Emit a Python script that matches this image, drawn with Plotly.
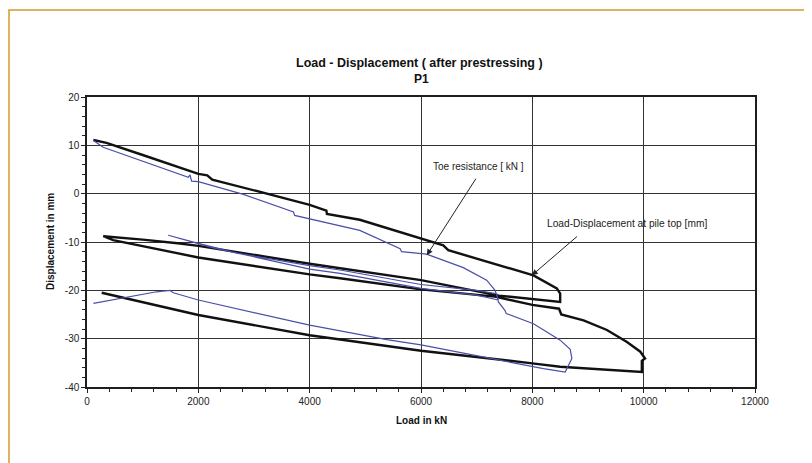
import plotly.graph_objects as go

# ---- data ----
black_load = [115, 350, 1000, 2000, 2160, 2250, 3350, 4000, 4300, 4310, 4900, 5985, 6220, 6400, 6490,
              7120, 8020, 8440, 8500, 8500, 7400, 6000, 4546, 4000, 2000, 1670, 1000, 293,
              470, 1000, 2000, 4000, 4546, 6000, 7330, 8000, 8480, 8520, 8920, 9340, 9700, 9940,
              10025, 9967, 9967, 8500, 8000, 6000, 4000, 2000, 264]
black_disp = [11.1, 10.5, 8.0, 4.1, 3.8, 2.9, -0.35, -2.3, -3.5, -4.2, -5.4, -9.3, -10.0, -10.7, -11.7,
              -13.8, -16.9, -19.6, -20.7, -22.4, -21.1, -17.9, -15.5, -14.5, -10.8, -10.3, -9.5, -8.8,
              -9.6, -10.8, -13.2, -16.7, -17.5, -19.8, -21.3, -23.0, -23.8, -25.0, -26.2, -28.2, -30.7, -32.7,
              -34.1, -34.6, -36.9, -35.8, -35.1, -32.5, -29.3, -25.1, -20.5]

blue_load = [115, 290, 1820, 1850, 1880, 2000, 2810, 3710, 3730, 4900, 5625, 5650, 6100, 6760, 7180,
             7330, 7390, 7000, 6000, 4546, 4000, 3110, 2270, 1460,
             2000, 2690, 4000, 4546, 6000, 7000, 7360, 7390, 7510, 7530, 8020, 8500, 8680, 8710,
             8590, 8200, 6700, 6000, 5385, 4000, 2000, 1550, 1490, 1250, 115]
blue_disp = [11.0, 9.6, 3.4, 3.9, 2.6, 2.5, -0.15, -3.8, -4.5, -7.6, -11.4, -12.0, -12.5, -15.3, -17.9,
             -20.0, -22.0, -21.0, -19.6, -16.5, -15.6, -13.3, -11.2, -8.6,
             -10.3, -12.3, -14.9, -15.8, -18.8, -20.0, -20.7, -22.4, -24.2, -24.8, -26.9, -30.3, -32.2, -34.1,
             -36.9, -36.2, -32.9, -31.3, -30.2, -27.2, -22.0, -20.5, -20.0, -20.3, -22.7]

x_tick_vals = [0, 2000, 4000, 6000, 8000, 10000, 12000]
x_tick_text = ["0", "2000", "4000", "6000", "8000", "10000", "12000"]
y_tick_vals = [20, 10, 0, -10, -20, -30, -40]
y_tick_text = ["20", "10", "0", "-10", "-20", "-30", "-40"]

title_line1 = "Load - Displacement ( after prestressing )"
title_line2 = "P1"
x_title = "Load in kN"
y_title = "Displacement in mm"
label_toe = "Toe resistance [ kN ]"
label_top = "Load-Displacement at pile top [mm]"
toe_tip = (6104, -12.75)
toe_tail = (7003, 3.4)
top_tip = (7991, -16.9)
top_tail = (8829, -8.6)

FONT = "Liberation Sans, Arial, sans-serif"
OFF = 8  # page body margin
W, H = 804, 455
L, R, T, B = 79, 57, 89, 76
PW, PH = W - L - R, H - T - B


def px(xp):  # absolute page x -> paper
    return (xp - OFF - L) / PW


def py(yp):  # absolute page y -> paper
    return (H - B - (yp - OFF)) / PH


fig = go.Figure()
fig.add_trace(go.Scatter(x=black_load, y=black_disp, mode="lines",
                         line=dict(color="#111111", width=2.4), name="pile top",
                         showlegend=False, hoverinfo="skip"))
fig.add_trace(go.Scatter(x=blue_load, y=blue_disp, mode="lines",
                         line=dict(color="#4a4fa8", width=1.2), name="toe",
                         showlegend=False, hoverinfo="skip"))

axis_common = dict(showline=True, linecolor="#1e1e1e", linewidth=1.5, mirror=True,
                   showgrid=True, gridcolor="#333333", gridwidth=1.3, zeroline=False,
                   ticks="outside", ticklen=4, tickcolor="#1e1e1e",
                   tickfont=dict(family=FONT, size=10, color="#222222"))

fig.update_xaxes(range=[0, 12000], tickvals=x_tick_vals, ticktext=x_tick_text,
                 minor=dict(dtick=400, ticks="outside", ticklen=3, tickcolor="#222222", showgrid=False),
                 **axis_common)
fig.update_yaxes(range=[-40, 20], tickvals=y_tick_vals, ticktext=y_tick_text,
                 minor=dict(dtick=2, ticks="outside", ticklen=3, tickcolor="#222222", showgrid=False),
                 **axis_common)

annots = [
    dict(text="<b>%s</b>" % title_line1, x=px(419), y=py(63), xref="paper", yref="paper",
         showarrow=False, font=dict(family=FONT, size=12.5, color="#111"), xanchor="center", yanchor="middle"),
    dict(text="<b>%s</b>" % title_line2, x=px(421), y=py(79), xref="paper", yref="paper",
         showarrow=False, font=dict(family=FONT, size=12, color="#111"), xanchor="center", yanchor="middle"),
    dict(text="<b>%s</b>" % x_title, x=px(421), y=py(420), xref="paper", yref="paper",
         showarrow=False, font=dict(family=FONT, size=10, color="#111"), xanchor="center", yanchor="middle"),
    dict(text="<b>%s</b>" % y_title, x=px(50), y=py(242), xref="paper", yref="paper", textangle=-90,
         showarrow=False, font=dict(family=FONT, size=10, color="#111"), xanchor="center", yanchor="middle"),
    dict(text=label_toe, x=px(478), y=py(166), xref="paper", yref="paper",
         showarrow=False, font=dict(family=FONT, size=10, color="#222"), xanchor="center", yanchor="middle"),
    dict(text=label_top, x=px(627), y=py(223), xref="paper", yref="paper",
         showarrow=False, font=dict(family=FONT, size=10.2, color="#222"), xanchor="center", yanchor="middle"),
    dict(text="", x=toe_tip[0], y=toe_tip[1], ax=toe_tail[0], ay=toe_tail[1], xref="x", yref="y",
         axref="x", ayref="y", showarrow=True, arrowhead=2, arrowsize=1.2, arrowwidth=1, arrowcolor="#222"),
    dict(text="", x=top_tip[0], y=top_tip[1], ax=top_tail[0], ay=top_tail[1], xref="x", yref="y",
         axref="x", ayref="y", showarrow=True, arrowhead=2, arrowsize=1.2, arrowwidth=1, arrowcolor="#222"),
]

fig.update_layout(
    width=W, height=H, autosize=False,
    margin=dict(l=L, r=R, t=T, b=B, pad=0),
    paper_bgcolor="white", plot_bgcolor="white",
    annotations=annots,
    shapes=[dict(type="rect", xref="paper", yref="paper",
                 x0=px(9), y0=py(520), x1=px(900), y1=py(10),
                 line=dict(color="#d29a2e", width=1.5), fillcolor="rgba(0,0,0,0)", layer="below")],
)

fig.write_html("out.html")
